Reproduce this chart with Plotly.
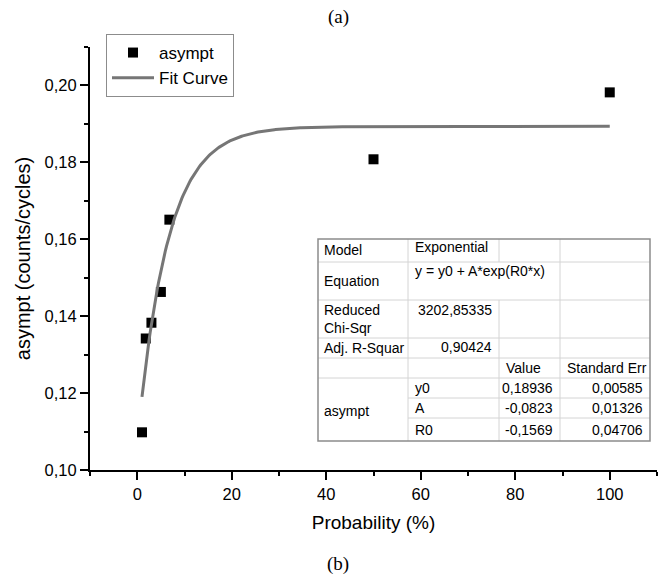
import numpy as np
import plotly.graph_objects as go

# ---- measured data ----
prob = [1, 1.8, 3, 5, 6.8, 50, 100]
asympt = [0.1098, 0.1342, 0.1383, 0.1463, 0.1651, 0.1808, 0.1982]

# ---- exponential fit parameters: y = y0 + A*exp(R0*x) ----
fit_y0 = 0.18936
fit_A = -0.0823
fit_R0 = -0.1569
fit_x_start = 1
fit_x_end = 100

# ---- fit report table text ----
report_labels = ["Model", "Equation", "Reduced<br>Chi-Sqr", "Adj. R-Squar"]
report_values = ["Exponential", "y = y0 + A*exp(R0*x)", "3202,85335", "0,90424"]
param_header = ["Value", "Standard Err"]
param_group = "asympt"
param_names = ["y0", "A", "R0"]
param_values = ["0,18936", "-0,0823", "-0,1569"]
param_errors = ["0,00585", "0,01326", "0,04706"]

# ---- axes ----
x_range = [-10, 110]
y_range = [0.10, 0.21]

W, H = 665, 577
L, R, T, B = 90, 657, 47, 470  # plot area in pixels

SANS = "Liberation Sans, Arial, sans-serif"
SERIF = "Liberation Serif, Times New Roman, serif"


def px(x):
    return (x - L) / (R - L)


def py(y):
    return (B - y) / (B - T)


fit_x = np.linspace(fit_x_start, fit_x_end, 400)
fit_y = fit_y0 + fit_A * np.exp(fit_R0 * fit_x)

fig = go.Figure()
fig.add_trace(go.Scatter(
    x=prob, y=asympt, mode="markers", name="asympt",
    marker=dict(symbol="square", size=10, color="black", line=dict(width=0)),
))
fig.add_trace(go.Scatter(
    x=fit_x, y=fit_y, mode="lines", name="Fit Curve",
    line=dict(color="#767676", width=3),
))

axis_common = dict(
    showline=True, linecolor="black", linewidth=2, mirror=False,
    showgrid=False, zeroline=False,
    ticks="outside", ticklen=8, tickwidth=2, tickcolor="black",
    tickfont=dict(family=SANS, size=16.5, color="black"),
)
fig.update_xaxes(
    range=x_range, tick0=0, dtick=20,
    minor=dict(ticks="outside", ticklen=4, tickwidth=2, tickcolor="black", tick0=0, dtick=10, showgrid=False),
    title=dict(text="Probability (%)", font=dict(family=SANS, size=19, color="black"), standoff=14),
    **axis_common,
)
fig.update_yaxes(
    range=y_range, tick0=0.10, dtick=0.02, tickformat=".2f",
    minor=dict(ticks="outside", ticklen=4, tickwidth=2, tickcolor="black", tick0=0.10, dtick=0.01, showgrid=False),
    title=dict(text="asympt (counts/cycles)", font=dict(family=SANS, size=20, color="black"), standoff=9),
    **axis_common,
)

# ---- fit report table ----
col_x = [318, 408, 499, 560, 650]
row_y = [239, 262, 300, 338, 358, 378, 398, 418, 441]
inner = "#d4d4d4"
outer = "#8c8c8c"
shapes = []


def hline(x0, x1, y, color=inner, w=1):
    shapes.append(dict(type="line", xref="paper", yref="paper",
                       x0=px(x0), x1=px(x1), y0=py(y), y1=py(y),
                       line=dict(color=color, width=w)))


def vline(x, y0, y1, color=inner, w=1):
    shapes.append(dict(type="line", xref="paper", yref="paper",
                       x0=px(x), x1=px(x), y0=py(y0), y1=py(y1),
                       line=dict(color=color, width=w)))


shapes.append(dict(type="rect", xref="paper", yref="paper",
                   x0=px(col_x[0]), x1=px(col_x[-1]), y0=py(row_y[-1]), y1=py(row_y[0]),
                   fillcolor="white", line=dict(width=0), layer="above"))
for y in row_y[1:6]:
    hline(col_x[0], col_x[-1], y)
for y in row_y[6:8]:
    hline(col_x[1], col_x[-1], y)
vline(col_x[1], row_y[0], row_y[-1])
vline(col_x[2], row_y[0], row_y[1])
vline(col_x[2], row_y[2], row_y[-1])
vline(col_x[3], row_y[0], row_y[-1])
shapes.append(dict(type="rect", xref="paper", yref="paper",
                   x0=px(col_x[0]), x1=px(col_x[-1]), y0=py(row_y[-1]), y1=py(row_y[0]),
                   line=dict(color=outer, width=1.5), layer="above"))

annotations = []
TF = dict(family=SANS, size=14, color="black")


def text(x, y, s, anchor="left"):
    annotations.append(dict(xref="paper", yref="paper", x=px(x), y=py(y), text=s,
                            showarrow=False, xanchor=anchor, yanchor="middle",
                            align=anchor, font=TF))


label_y = [250, 281, 319, 348]
value_y = [247, 271, 310, 347]
for i, lab in enumerate(report_labels):
    text(col_x[0] + 4, label_y[i], lab)
text(col_x[1] + 5, value_y[0], report_values[0])
text(col_x[1] + 5, value_y[1], report_values[1])
text(col_x[2] - 5, value_y[2], report_values[2], "right")
text(col_x[2] - 5, value_y[3], report_values[3], "right")
text(col_x[2] + 5, 368, param_header[0])
text(col_x[3] + 5, 368, param_header[1])
text(col_x[0] + 4, 411, param_group)
for i in range(3):
    yc = (row_y[5 + i] + row_y[6 + i]) / 2
    text(col_x[1] + 5, yc, param_names[i])
    text(col_x[3] - 5, yc, param_values[i], "right")
    text(col_x[4] - 5, yc, param_errors[i], "right")

# panel captions
annotations.append(dict(xref="paper", yref="paper", x=px(338), y=py(17), text="(a)",
                        showarrow=False, xanchor="center", yanchor="middle",
                        font=dict(family=SERIF, size=19, color="black")))
annotations.append(dict(xref="paper", yref="paper", x=px(338), y=py(564), text="(b)",
                        showarrow=False, xanchor="center", yanchor="middle",
                        font=dict(family=SERIF, size=19, color="black")))

fig.update_layout(
    width=W, height=H,
    margin=dict(l=L, r=W - R, t=T, b=H - B),
    paper_bgcolor="white", plot_bgcolor="white",
    separators=",.",
    showlegend=True,
    legend=dict(
        x=px(106), y=py(34), xanchor="left", yanchor="top",
        bordercolor="#8c8c8c", borderwidth=1, bgcolor="white",
        font=dict(family=SANS, size=17, color="black"),
        tracegroupgap=0, itemwidth=42,
    ),
    shapes=shapes,
    annotations=annotations,
)

fig.write_html("out.html")
